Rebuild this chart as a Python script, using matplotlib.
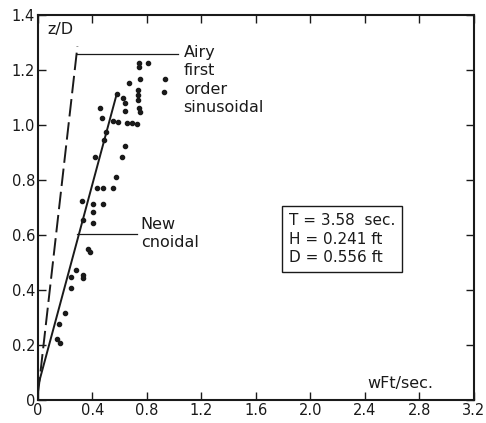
import numpy as np
import matplotlib
matplotlib.use('Agg')
import matplotlib.pyplot as plt

# measured points (velocity wFt/sec, z/D)
vel = [0.741, 0.741, 0.807, 0.749, 0.668, 0.932, 0.925, 0.734, 0.734, 0.734,
       0.741, 0.749, 0.580, 0.624, 0.639, 0.639, 0.455, 0.470, 0.550, 0.587,
       0.653, 0.690, 0.727, 0.499, 0.639, 0.484, 0.617, 0.418, 0.572, 0.433,
       0.477, 0.550, 0.323, 0.404, 0.477, 0.404, 0.330, 0.404, 0.367, 0.382,
       0.279, 0.330, 0.330, 0.242, 0.242, 0.198, 0.154, 0.139, 0.161]
zd = [1.225, 1.211, 1.225, 1.167, 1.153, 1.167, 1.120, 1.127, 1.109, 1.091,
      1.062, 1.047, 1.113, 1.098, 1.080, 1.051, 1.062, 1.025, 1.015, 1.011,
      1.007, 1.007, 1.004, 0.975, 0.924, 0.945, 0.884, 0.884, 0.811, 0.771,
      0.771, 0.771, 0.724, 0.713, 0.713, 0.684, 0.655, 0.644, 0.549, 0.538,
      0.473, 0.455, 0.444, 0.447, 0.407, 0.316, 0.276, 0.222, 0.207]

# theory lines
airy_x = [0.0, 0.29]
airy_y = [0.02, 1.285]
cnoidal_x = [0.0, 0.58]
cnoidal_y = [0.05, 1.115]

xticks = [0, 0.4, 0.8, 1.2, 1.6, 2.0, 2.4, 2.8, 3.2]
xlabels = ['0', '0.4', '0.8', '1.2', '1.6', '2.0', '2.4', '2.8', '3.2']
yticks = [0, 0.2, 0.4, 0.6, 0.8, 1.0, 1.2, 1.4]
ylabels = ['0', '0.2', '0.4', '0.6', '0.8', '1.0', '1.2', '1.4']

ink = '#1a1a1a'
fs = 11.5
fig = plt.figure(figsize=(4.86, 4.23), dpi=100)
ax = fig.add_axes([0.078, 0.054, 0.897, 0.911])

ax.plot(airy_x, airy_y, color=ink, lw=1.4, dashes=(9, 3))
ax.plot(cnoidal_x, cnoidal_y, color=ink, lw=1.4)
ax.scatter(vel, zd, s=9, color=ink, zorder=3)

# callouts
ax.plot([0.29, 1.03], [1.258, 1.258], color=ink, lw=0.9)
ax.text(1.07, 1.292, 'Airy\nfirst\norder\nsinusoidal', fontsize=fs, color=ink,
        va='top', ha='left', linespacing=1.3)
ax.plot([0.29, 0.73], [0.604, 0.604], color=ink, lw=0.9)
ax.text(0.755, 0.605, 'New\ncnoidal', fontsize=fs, color=ink, va='center',
        ha='left', linespacing=1.3)

ax.text(1.84, 0.585, 'T = 3.58  sec.\nH = 0.241 ft\nD = 0.556 ft', fontsize=11,
        color=ink, va='center', ha='left', linespacing=1.3,
        bbox=dict(boxstyle='square,pad=0.45', fc='white', ec=ink, lw=1.0))

ax.text(0.07, 1.375, 'z/D', fontsize=fs, color=ink, va='top', ha='left')
ax.text(2.42, 0.035, 'wFt/sec.', fontsize=fs, color=ink, va='bottom', ha='left')

ax.set_xlim(0, 3.2)
ax.set_ylim(0, 1.4)
ax.set_xticks(xticks)
ax.set_xticklabels(xlabels)
ax.set_yticks(yticks)
ax.set_yticklabels(ylabels)
ax.tick_params(direction='in', length=6, width=1, colors=ink, labelsize=10.5,
               top=True, right=True, pad=2)
for s in ax.spines.values():
    s.set_linewidth(1.5)
    s.set_color(ink)

fig.savefig('out.png', dpi=100)
